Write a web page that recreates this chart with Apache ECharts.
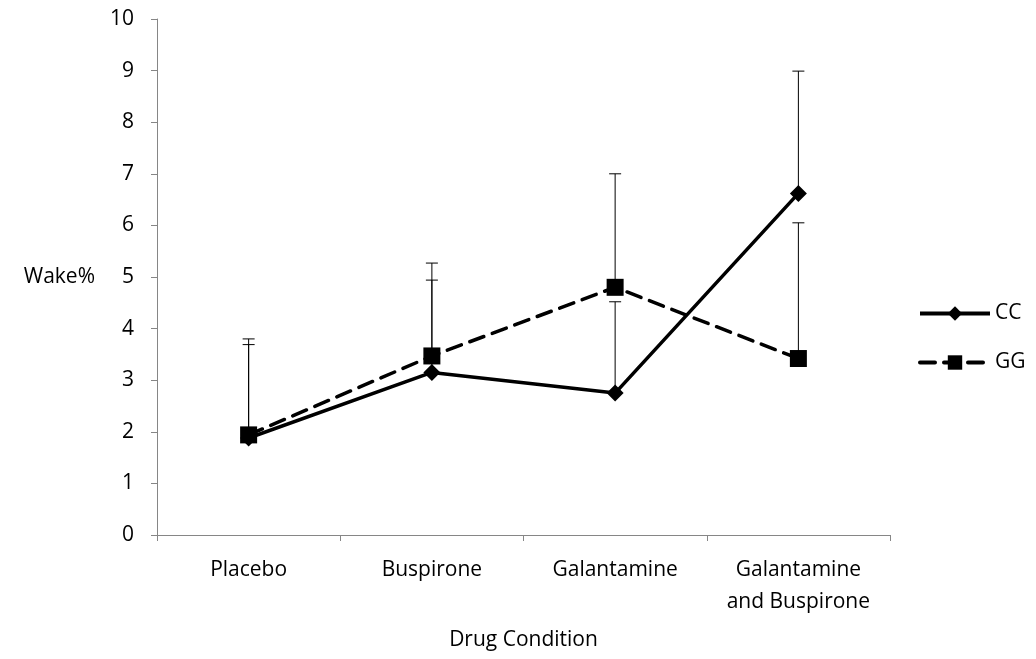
<!DOCTYPE html>
<html>
<head>
<meta charset="utf-8">
<script src="https://cdn.jsdelivr.net/npm/echarts@6/dist/echarts.min.js"></script>
<style>html,body{margin:0;padding:0;background:#fff;}#c{width:1036px;height:659px;}</style>
</head>
<body>
<div id="c"></div>
<script>
var categories = ['Placebo', 'Buspirone', 'Galantamine', 'Galantamine\nand Buspirone'];
var ccValues = [1.88, 3.15, 2.75, 6.62];
var ggValues = [1.94, 3.47, 4.80, 3.42];
var ccErrTop = [3.69, 4.94, 4.52, 8.99];
var ggErrTop = [3.80, 5.27, 7.00, 6.05];
var yTicks = [0, 10, 1];

var font = 'Open Sans';
var fs = 21;
function errData(vals, tops) {
  return vals.map(function (v, i) { return [i, v, tops[i]]; });
}
function errRender(params, api) {
  var p0 = api.coord([api.value(0), api.value(1)]);
  var p1 = api.coord([api.value(0), api.value(2)]);
  var hw = 6;
  return {
    type: 'group',
    children: [
      { type: 'line', shape: { x1: p0[0], y1: p0[1], x2: p1[0], y2: p1[1] }, style: { stroke: '#000', lineWidth: 1 } },
      { type: 'line', shape: { x1: p1[0] - hw, y1: p1[1], x2: p1[0] + hw, y2: p1[1] }, style: { stroke: '#000', lineWidth: 1 } }
    ]
  };
}
var chart = echarts.init(document.getElementById('c'), null, { renderer: 'canvas' });
chart.setOption({
  animation: false,
  backgroundColor: '#fff',
  grid: { left: 157, right: 146, top: 19, bottom: 124 },
  legend: {
    orient: 'vertical', left: 918, top: 303, padding: 0,
    itemWidth: 70, itemHeight: 18, itemGap: 28,
    lineStyle: { width: 4 },
    textStyle: { fontFamily: font, fontSize: fs, color: '#000' },
    data: ['CC', 'GG']
  },
  xAxis: {
    type: 'category',
    data: categories,
    boundaryGap: true,
    name: 'Drug Condition',
    nameLocation: 'middle',
    nameGap: 95,
    nameTextStyle: { fontFamily: font, fontSize: fs, color: '#000' },
    axisLine: { lineStyle: { color: '#868686', width: 1 } },
    axisTick: { show: true, interval: 0, length: 6, inside: false, lineStyle: { color: '#868686' } },
    axisLabel: { interval: 0, fontFamily: font, fontSize: fs, color: '#000', margin: 19, lineHeight: 32 },
    splitLine: { show: false }
  },
  yAxis: {
    type: 'value',
    min: yTicks[0], max: yTicks[1], interval: yTicks[2],
    name: 'Wake%',
    nameLocation: 'middle',
    nameRotate: 0,
    nameGap: 62,
    nameTextStyle: { fontFamily: font, fontSize: fs, color: '#000', align: 'right', verticalAlign: 'middle' },
    axisLine: { show: true, lineStyle: { color: '#868686', width: 1 } },
    axisTick: { show: true, length: 6, lineStyle: { color: '#868686' } },
    axisLabel: { fontFamily: font, fontSize: fs, color: '#000', margin: 23 },
    splitLine: { show: false }
  },
  series: [
    {
      name: 'CCerr', type: 'custom', renderItem: errRender, data: errData(ccValues, ccErrTop), z: 1, silent: true
    },
    {
      name: 'GGerr', type: 'custom', renderItem: errRender, data: errData(ggValues, ggErrTop), z: 1, silent: true
    },
    {
      name: 'CC', type: 'line', data: ccValues, z: 3,
      symbol: 'diamond', symbolSize: 17,
      lineStyle: { color: '#000', width: 3.5 },
      itemStyle: { color: '#000', borderWidth: 0 }
    },
    {
      name: 'GG', type: 'line', data: ggValues, z: 2,
      symbol: 'rect', symbolSize: 17,
      lineStyle: { color: '#000', width: 3.5, type: [15, 9], cap: 'round' },
      itemStyle: { color: '#000', borderWidth: 0 }
    }
  ]
});
</script>
</body>
</html>
